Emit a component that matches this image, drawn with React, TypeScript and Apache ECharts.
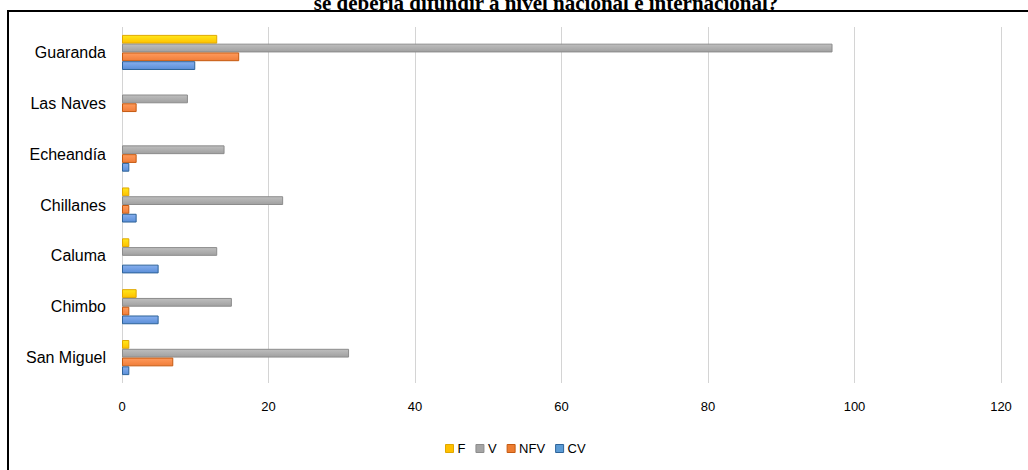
import React, { useEffect, useRef } from "react";
import * as echarts from "echarts";

const categories = ["Guaranda", "Las Naves", "Echeandía", "Chillanes", "Caluma", "Chimbo", "San Miguel"];
const seriesNames = ["F", "V", "NFV", "CV"];
const valuesF = [13, 0, 0, 1, 1, 2, 1];
const valuesV = [97, 9, 14, 22, 13, 15, 31];
const valuesNFV = [16, 2, 2, 1, 0, 1, 7];
const valuesCV = [10, 0, 1, 2, 5, 5, 1];
const xTicks = [0, 20, 40, 60, 80, 100, 120];
const titleText = "se debería difundir a nivel nacional e internacional?";

const palette = [
  { top: "#FFE81A", bottom: "#FFC000", border: "#E0A800", legend: "#FFC000" },
  { top: "#BEBEBE", bottom: "#A0A0A0", border: "#8C8C8C", legend: "#A5A5A5" },
  { top: "#FF9A5C", bottom: "#F07E3A", border: "#C55A11", legend: "#ED7D31" },
  { top: "#86AEEE", bottom: "#5B8FD8", border: "#2E6399", legend: "#5B9BD5" },
];

export default function App() {
  const ref = useRef<HTMLDivElement>(null);
  useEffect(() => {
    if (!ref.current) return;
    const chart = echarts.init(ref.current, null, { renderer: "svg" });
    const data = [valuesF, valuesV, valuesNFV, valuesCV];
    chart.setOption({
      animation: false,
      backgroundColor: "#ffffff",
      textStyle: { fontFamily: "Liberation Sans" },
      graphic: [
        {
          type: "rect",
          shape: { x: 8, y: 11, width: 1100, height: 600 },
          style: { fill: "none", stroke: "#000000", lineWidth: 2 },
          silent: true,
          z: 100,
        },
        {
          type: "text",
          x: 546,
          y: 13,
          style: {
            text: titleText,
            font: "bold 21px 'Liberation Serif'",
            fill: "#000000",
            align: "center",
            verticalAlign: "bottom",
          },
        },
      ],
      legend: {
        left: 440,
        top: 437,
        icon: "rect",
        itemWidth: 8,
        itemHeight: 8,
        itemGap: 10,
        textStyle: { fontSize: 13, color: "#000000", fontFamily: "Liberation Sans", padding: [0, 0, 0, -1] },
        data: seriesNames.map((n, i) => ({
          name: n,
          itemStyle: { color: palette[i].legend, borderColor: palette[i].border, borderWidth: 1 },
        })),
      },
      grid: { left: 122, top: 27, right: 27, bottom: 87, containLabel: false },
      xAxis: {
        type: "value",
        min: 0,
        max: 120,
        interval: 20,
        axisLine: { show: false },
        axisTick: { show: false },
        splitLine: { show: true, lineStyle: { color: "#D4D4D4", width: 1 } },
        axisLabel: {
          color: "#000000",
          fontSize: 13,
          margin: 17,
          formatter: (v: number) => (xTicks.includes(v) ? String(v) : ""),
        },
      },
      yAxis: {
        type: "category",
        inverse: true,
        data: categories,
        axisLine: { show: false },
        axisTick: { show: false },
        splitLine: { show: false },
        axisLabel: { color: "#000000", fontSize: 16, margin: 16 },
      },
      series: seriesNames.map((n, i) => ({
        name: n,
        type: "bar",
        data: data[i].map((v) => (v === 0 ? "-" : v)),
        barGap: "0%",
        barCategoryGap: "31%",
        itemStyle: {
          color: new echarts.graphic.LinearGradient(0, 0, 0, 1, [
            { offset: 0, color: palette[i].top },
            { offset: 1, color: palette[i].bottom },
          ]),
          borderColor: palette[i].border,
          borderWidth: 1,
        },
      })),
    });
    return () => chart.dispose();
  }, []);
  return (
    <div
      ref={ref}
      style={{ position: "absolute", left: 0, top: 0, width: 1028, height: 470 }}
    />
  );
}
